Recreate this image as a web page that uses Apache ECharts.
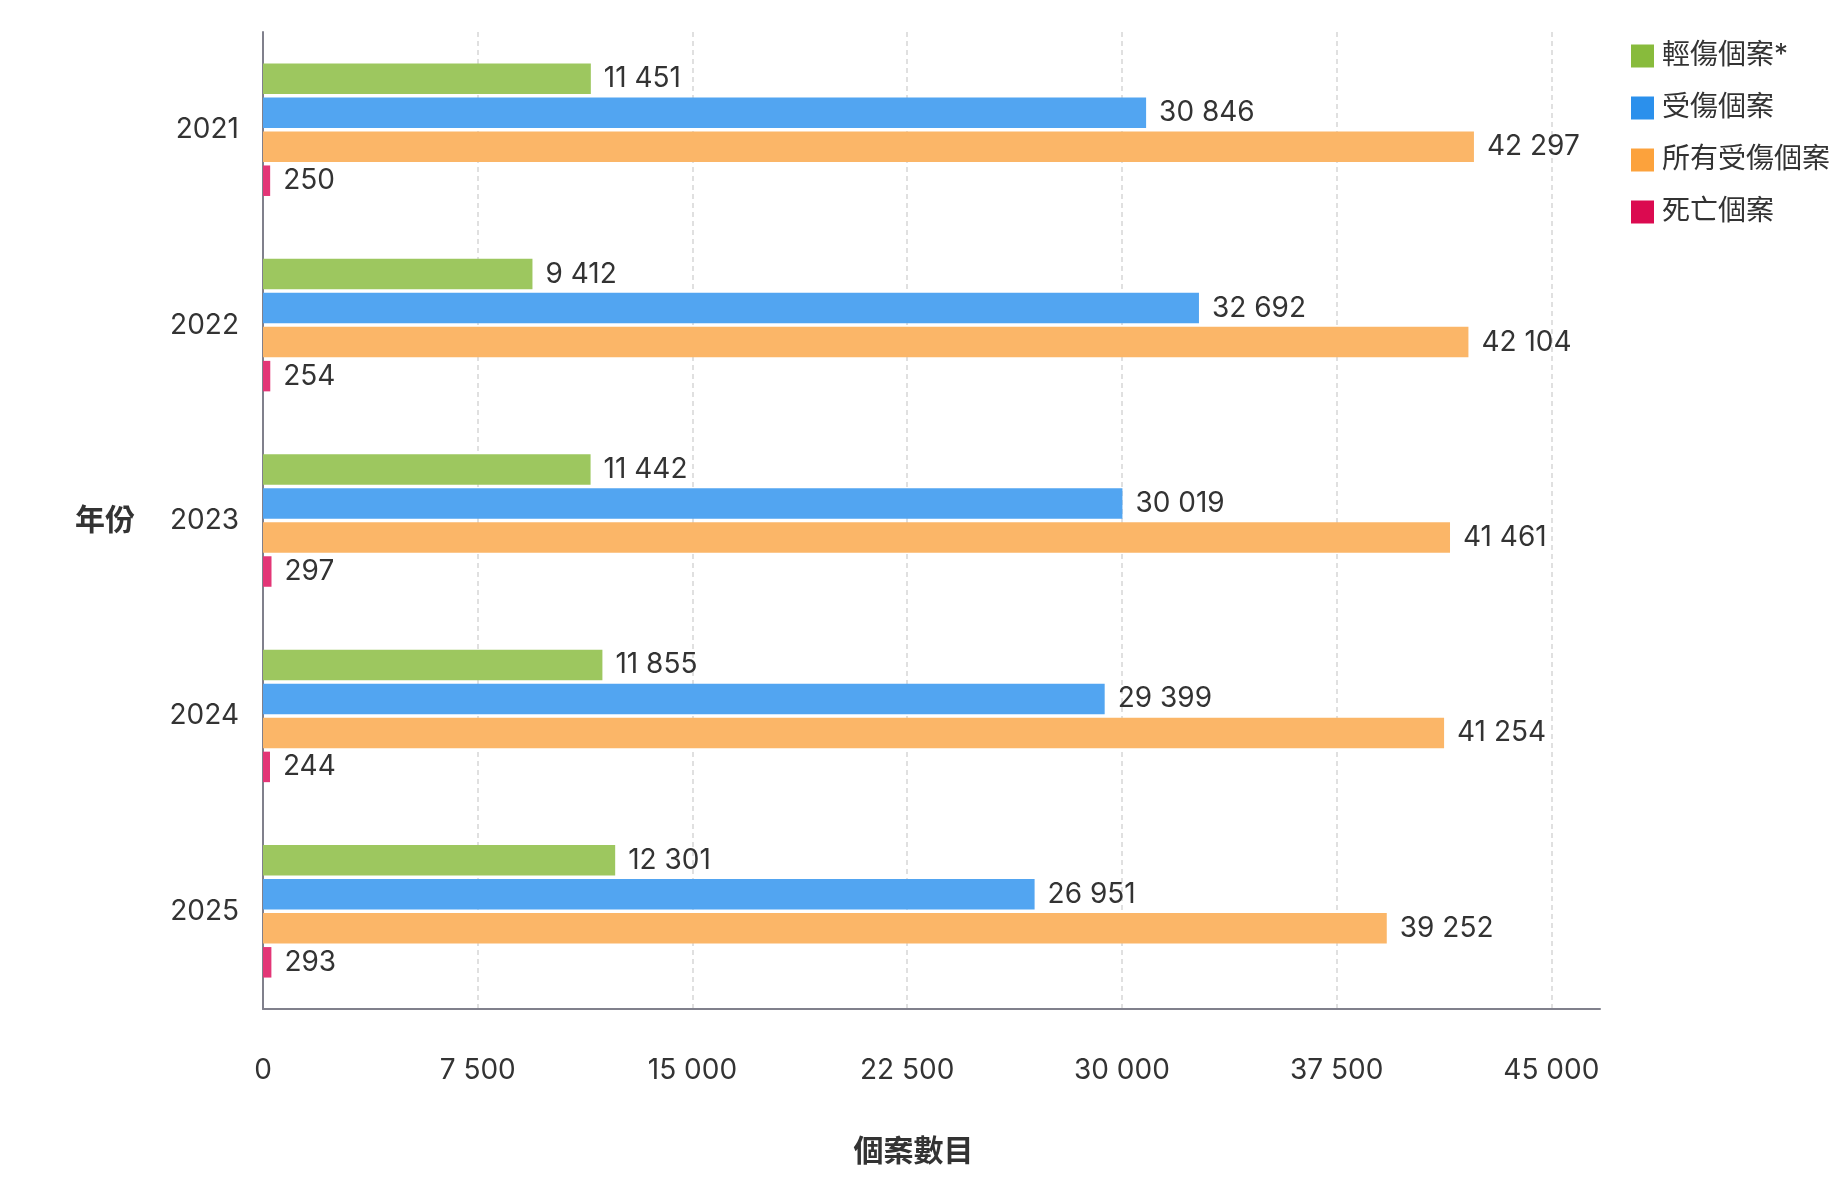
<!DOCTYPE html>
<html>
<head>
<meta charset="utf-8">
<script src="https://cdn.jsdelivr.net/npm/echarts@6/dist/echarts.min.js"></script>
<style>html,body{margin:0;padding:0;background:#fff}#c{width:1840px;height:1200px}</style>
</head>
<body>
<div id="c"></div>
<script>
const categories = ['2021', '2022', '2023', '2024', '2025'];
const seriesNames = ['輕傷個案*', '受傷個案', '所有受傷個案', '死亡個案'];
const minorInjury = [11451, 9412, 11442, 11855, 12301];
const injured = [30846, 32692, 30019, 29399, 26951];
const allInjured = [42297, 42104, 41461, 41254, 39252];
const deaths = [250, 254, 297, 244, 293];
const xTicks = [0, 7500, 15000, 22500, 30000, 37500, 45000];

const barColors = ['#9dc75f', '#52a5f1', '#fbb668', '#e33677'];
const legendColors = ['#88bb3c', '#2b90ec', '#fca23c', '#db0a50'];
const FONT = "Inter, 'Noto Sans CJK TC', sans-serif";

function fmt(v) {
  return String(v).replace(/\B(?=(\d{3})+(?!\d))/g, ' ');
}

const dataSets = [minorInjury, injured, allInjured, deaths];
const chart = echarts.init(document.getElementById('c'), null, {renderer: 'canvas'});

chart.setOption({
  backgroundColor: '#fff',
  textStyle: {fontFamily: FONT},
  animation: false,
  grid: {left: 263, top: 32, right: 240, bottom: 191, containLabel: false},
  legend: {
    orient: 'vertical',
    left: 1626,
    top: 37,
    icon: 'rect',
    itemWidth: 23,
    itemHeight: 23,
    itemGap: 24,
    textStyle: {fontSize: 28, color: '#333', fontFamily: FONT, padding: [0, 0, 0, 3]},
    data: seriesNames.map((n, i) => ({name: n, itemStyle: {color: legendColors[i], opacity: 1}}))
  },
  xAxis: {
    type: 'value',
    min: 0,
    max: 46700,
    interval: 7500,
    name: '個案數目',
    nameLocation: 'middle',
    nameGap: 128,
    nameTextStyle: {fontSize: 30, fontWeight: 'bold', color: '#333', fontFamily: FONT, padding: [0, 36, 0, 0]},
    axisLine: {show: true, lineStyle: {color: '#80808c', width: 2}},
    axisTick: {show: false},
    axisLabel: {
      fontSize: 28, color: '#333', margin: 48, fontFamily: FONT,
      showMaxLabel: false,
      formatter: function (v) { return xTicks.indexOf(v) >= 0 ? fmt(v) : ''; }
    },
    splitLine: {show: true, showMinLine: false, showMaxLine: false, lineStyle: {color: '#d6d6d6', width: 1.5, type: [5, 4]}}
  },
  yAxis: {
    type: 'category',
    inverse: true,
    data: categories,
    name: '年份',
    nameLocation: 'middle',
    nameRotate: 0,
    nameGap: 128,
    nameTextStyle: {fontSize: 30, fontWeight: 'bold', color: '#333', fontFamily: FONT},
    axisLine: {show: true, lineStyle: {color: '#80808c', width: 2}},
    axisTick: {show: false},
    axisLabel: {fontSize: 28, color: '#333', margin: 24, fontFamily: FONT},
    splitLine: {show: false}
  },
  series: seriesNames.map((n, i) => ({
    name: n,
    type: 'bar',
    data: dataSets[i],
    barWidth: 30.5,
    barGap: '11.5%',
    itemStyle: {color: barColors[i]},
    label: {
      show: true,
      position: 'right',
      distance: 13,
      fontSize: 28,
      color: '#333',
      fontFamily: FONT,
      padding: [3, 0, 0, 0],
      formatter: p => fmt(p.value)
    }
  }))
});
</script>
</body>
</html>
